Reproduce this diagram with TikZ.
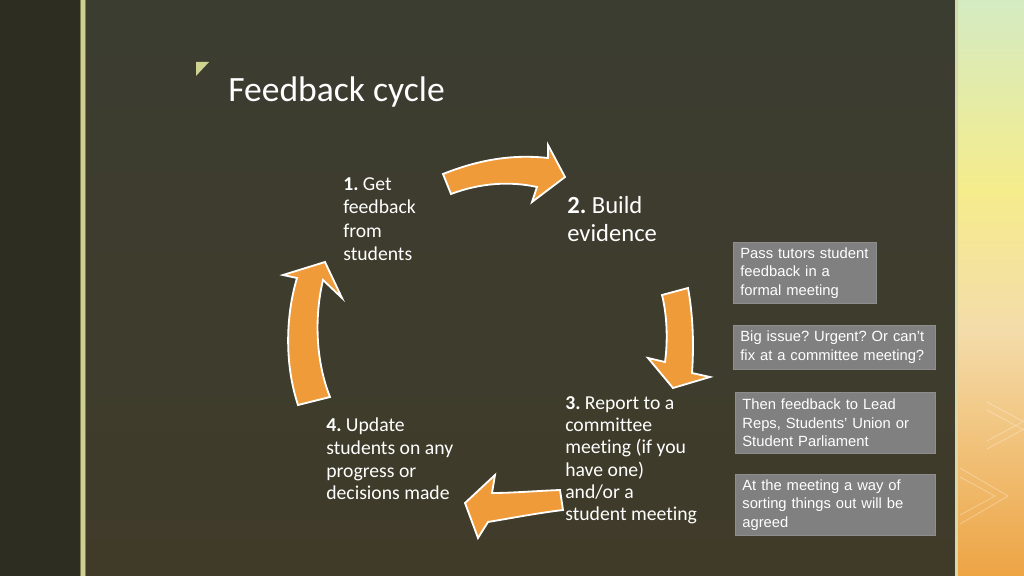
\documentclass[tikz,border=0pt]{standalone}
\usepackage{fontspec}
\setmainfont{Carlito}[Ligatures=NoCommon]
\newfontfamily\boxfont{Liberation Sans}
\frenchspacing
\definecolor{leftdark}{HTML}{2D2D21}
\definecolor{mainTop}{HTML}{3B3D31}
\definecolor{mainBot}{HTML}{403B29}
\definecolor{edgeline}{HTML}{CFCF92}
\definecolor{edgedark}{HTML}{7E7F55}
\definecolor{bullet}{HTML}{CFD38F}
\definecolor{arroworange}{HTML}{F09B3A}
\definecolor{boxgray}{HTML}{808080}
\definecolor{boxedge}{HTML}{8E8E8E}
\definecolor{stripA}{HTML}{D4EBC2}
\definecolor{stripB}{HTML}{F5EC8C}
\definecolor{stripC}{HTML}{F4DCAA}
\definecolor{stripD}{HTML}{EDA444}

\begin{document}
\begin{tikzpicture}[x=0.025cm, y=-0.025cm,
    steptext/.style={anchor=north west, inner sep=0pt, align=left, text=white,
                     font=\fontsize{14}{16.7}\selectfont},
    notebox/.style={anchor=north west, fill=boxgray, draw=boxedge, line width=0.5pt,
                    text=white, align=left, inner xsep=5pt, inner ysep=0pt,
                    font=\boxfont\fontsize{10.5}{13.1}\selectfont},
    cyclearrow/.style={fill=arroworange, draw=white, line width=1.3pt, line join=miter}]
    \useasboundingbox (0,0) rectangle (1024,576);

    % background
    \fill[leftdark] (0,0) rectangle (81,576);
    \shade[top color=mainTop, bottom color=mainBot] (84,0) rectangle (955,576);
    \fill[edgedark] (80,0) rectangle (86,576);
    \fill[edgeline] (81.3,0) rectangle (84.6,576);
    \fill[edgeline!80!white] (955,0) rectangle (958,576);
    \shade[top color=stripA, bottom color=stripB] (958,0) rectangle (1024,190);
    \shade[top color=stripB, bottom color=stripC] (958,190) rectangle (1024,330);
    \shade[top color=stripC, bottom color=stripD] (958,330) rectangle (1024,576.5);
    \draw[white, opacity=0.35, line width=0.5pt] (987,402) -- (1026,423) (987,410) -- (1026,431)
        (987,441) -- (1026,420) (987,449) -- (1026,428);
    \draw[white, opacity=0.35, line width=0.5pt] (960,468) -- (1008,496) -- (960,524)
        (960,477) -- (995,496) -- (960,515);

    % title
    \fill[bullet] (196,62) -- (209,62) -- (196,76) -- cycle;
    \node[anchor=base west, inner sep=0pt, text=white, font=\fontsize{25.3}{30}\selectfont]
        (title) at (228,102) {Feedback cycle};

    % steps
    \node[steptext] (get) at (343,177) {\textbf{1.} Get\\feedback\\from\\students};
    \node[steptext, font=\fontsize{17.5}{20}\selectfont] (build) at (567,196)
        {\textbf{2.} Build\\evidence};
    \node[steptext, font=\fontsize{14}{15.9}\selectfont] (report) at (565,396)
        {\textbf{3.} Report to a\\committee\\meeting (if you\\have one)\\and/or a\\student meeting};
    \node[steptext, font=\fontsize{14}{16.1}\selectfont] (update) at (326,418)
        {\textbf{4.} Update\\students on any\\progress or\\decisions made};

    % arrows
    \draw[cyclearrow] (443,174) .. controls (478,160) and (512,154) .. (548,158)
        -- (548,145) -- (565,177) -- (532,202) -- (537,187)
        .. controls (510,181) and (480,183) .. (451,194) -- cycle;
    \draw[cyclearrow] (688,288) .. controls (693,315) and (694,345) .. (692,373)
        -- (710,377) -- (673,388) -- (648,358) -- (665,362)
        .. controls (668,340) and (667,315) .. (662,295) -- cycle;
    \draw[cyclearrow] (560,490) .. controls (535,491) and (512,493) .. (492,493)
        -- (495,475) -- (465,503) -- (478,538) -- (488,522)
        .. controls (512,518) and (538,513) .. (563,510) -- cycle;
    \draw[cyclearrow] (330,397) .. controls (316,362) and (314,318) .. (323,280)
        -- (342,298) -- (325,262) -- (283,275) -- (297,278)
        .. controls (285,318) and (285,366) .. (298,405) -- cycle;

    % notes
    \node[notebox, text width=92pt, minimum height=1.525cm] (pass) at (733,242)
        {Pass tutors student\\feedback in a\\formal meeting};
    \node[notebox, text width=133.9pt, minimum height=1.1cm] (issue) at (733,325)
        {Big issue? Urgent? Or can’t\\fix at a committee meeting?};
    \node[notebox, text width=132.4pt, minimum height=1.525cm] (lead) at (735,392)
        {Then feedback to Lead\\Reps, Students’ Union or\\Student Parliament};
    \node[notebox, text width=132.4pt, minimum height=1.525cm] (agree) at (735,474)
        {At the meeting a way of\\sorting things out will be\\agreed};
\end{tikzpicture}
\end{document}
